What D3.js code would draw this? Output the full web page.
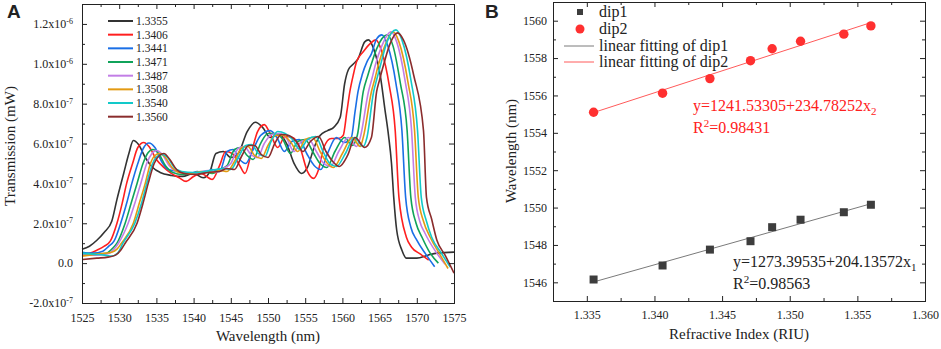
<!DOCTYPE html>
<html>
<head>
<meta charset="utf-8">
<script src="https://cdn.jsdelivr.net/npm/d3@7"></script>
<style>
  body { margin: 0; background: #fff; }
  svg { display: block; }
  text { font-family: "Liberation Serif", "Times New Roman", serif; fill: #222; }
</style>
</head>
<body>
<svg id="chart" width="941" height="349"></svg>
<script>
// ---- panel A data: transmission spectra, [wavelength nm, transmission x1e-7 mW] ----
const ri13355 = [[1525,0.7],[1526,0.85],[1527,1.15],[1528,1.55],[1529,2.1],[1529.7,3.2],[1530.6,4.5],[1531.3,5.5],[1531.9,6.15],[1532.6,5.95],[1533.5,5.3],[1534.5,4.8],[1535.5,4.55],[1537,4.4],[1538.5,4.35],[1540,4.5],[1541.3,4.28],[1542.2,4.6],[1543,5.5],[1544,5.6],[1545,5.3],[1546,5.5],[1547.2,6.6],[1548.3,7.07],[1549.3,6.8],[1550.3,6.3],[1551.5,6.45],[1552.5,6.0],[1553.5,5.0],[1554.5,4.5],[1555.3,4.8],[1556.2,5.8],[1557,6.4],[1558,6.65],[1558.8,6.8],[1559.7,7.3],[1560.3,9.0],[1560.8,9.7],[1561.5,10.0],[1562.1,10.25],[1563,11.1],[1563.5,11.2],[1564.2,10.75],[1565.1,9.4],[1565.7,7.75],[1566.2,6.4],[1566.6,5.0],[1566.9,3.3],[1567.3,1.65],[1568,0.65],[1568.6,0.25],[1570,0.25],[1571.5,0.4],[1572.7,0.5],[1575,0.55]];
const ri13406 = [[1525,0.45],[1526,0.5],[1527,0.65],[1528,0.85],[1528.8,1.1],[1529.7,2.0],[1530.4,3.0],[1531,4.0],[1531.8,5.0],[1532.5,5.8],[1533.3,6.05],[1534,5.85],[1535,5.2],[1536,4.8],[1537,4.5],[1538,4.3],[1539,4.1],[1540,4.35],[1541,4.5],[1542.5,4.2],[1543.5,4.9],[1544.3,5.6],[1545.2,5.5],[1546.2,4.9],[1546.9,4.5],[1547.8,5.6],[1548.6,6.6],[1549.5,6.95],[1550.3,6.5],[1551.3,5.8],[1552.3,6.35],[1553.3,6.3],[1554.3,5.8],[1555.3,4.6],[1556.1,4.25],[1556.8,4.7],[1557.5,5.8],[1558.5,6.25],[1559.5,6.25],[1560.1,6.4],[1560.6,7.6],[1561,8.6],[1561.5,9.5],[1561.9,10.1],[1562.8,10.6],[1563.7,11.0],[1564.5,11.2],[1565.3,10.6],[1566.3,8.9],[1567.1,6.65],[1567.6,3.3],[1568.6,1.3],[1569.3,0.8],[1570.5,0.45],[1571.6,0.15]];
const ri13441 = [[1525,0.55],[1526.5,0.5],[1527.8,0.6],[1528.6,0.85],[1529.3,1.1],[1530.2,2.0],[1531,3.0],[1531.7,4.0],[1532.5,5.0],[1533.3,5.8],[1534,6.03],[1534.8,5.8],[1535.7,5.1],[1536.6,4.7],[1538,4.6],[1539.5,4.5],[1540.5,4.6],[1541.5,4.55],[1542.5,4.7],[1543.5,4.6],[1544.5,5.6],[1545.3,5.7],[1546.2,5.2],[1547,5.0],[1548,5.7],[1549,6.4],[1550.3,6.65],[1551.2,6.3],[1552.2,5.6],[1553.2,6.1],[1554.2,6.2],[1555.2,5.5],[1556.2,4.9],[1557.1,4.7],[1558,5.5],[1559.2,6.3],[1560.3,6.05],[1561.2,6.3],[1561.7,7.6],[1562.1,8.6],[1562.7,9.5],[1563.3,10.1],[1563.9,10.5],[1564.6,11.25],[1565.3,11.45],[1566.1,10.9],[1567.2,9.0],[1568.0,6.65],[1568.5,3.3],[1569.2,1.8],[1570,1.15],[1571.2,0.45],[1572.4,-0.18]];
const ri13471 = [[1525,0.45],[1526.5,0.45],[1528.3,0.5],[1529,0.7],[1529.7,1.0],[1530.8,2.0],[1531.6,3.0],[1532.4,4.0],[1533.2,5.0],[1533.9,5.55],[1534.5,5.7],[1535.3,5.5],[1536.2,4.9],[1537.2,4.55],[1538.5,4.45],[1540,4.5],[1541.5,4.6],[1542.5,4.5],[1543.5,4.7],[1544.5,4.9],[1545.5,5.7],[1546.3,5.8],[1547.2,5.4],[1548,5.2],[1549,6.0],[1550,6.5],[1551,6.5],[1552,6.2],[1553,5.5],[1554,6.1],[1555,6.2],[1556,5.6],[1557,5.0],[1557.9,4.8],[1559,5.6],[1560.3,6.3],[1561.3,5.9],[1562,6.4],[1562.8,8.6],[1563.4,9.4],[1563.9,10.0],[1564.6,10.75],[1566,11.45],[1566.8,10.9],[1567.8,9.0],[1568.7,6.65],[1569.2,3.3],[1569.9,2.0],[1570.7,1.3],[1571.8,0.5],[1572.9,0]];
const ri13487 = [[1525,0.4],[1527,0.4],[1528.7,0.5],[1529.3,0.7],[1529.9,1.0],[1531.2,2.0],[1532.1,3.0],[1532.9,4.0],[1533.7,5.0],[1534.4,5.5],[1535,5.65],[1535.8,5.45],[1536.7,4.9],[1537.7,4.6],[1539,4.5],[1540.5,4.55],[1542,4.65],[1543,4.55],[1544,4.75],[1545,5.0],[1546,5.75],[1546.8,5.85],[1547.7,5.45],[1548.6,5.3],[1549.5,6.0],[1550.5,6.45],[1551.5,6.5],[1552.5,6.25],[1553.5,5.6],[1554.5,6.1],[1555.5,6.2],[1556.5,5.6],[1557.5,5.0],[1558.4,4.85],[1559.5,5.6],[1560.8,6.3],[1561.9,5.85],[1562.4,6.3],[1563.5,8.6],[1564,9.3],[1564.4,9.9],[1565.3,10.9],[1566.5,11.6],[1567.3,11.1],[1568.4,9.2],[1569.3,6.65],[1569.8,3.3],[1570.4,2.1],[1571.1,1.5],[1572.5,0.6],[1573.8,-0.05]];
const ri13508 = [[1525,0.35],[1527,0.45],[1529,0.55],[1529.7,0.7],[1530.3,1.0],[1531.9,2.0],[1532.7,3.0],[1533.5,4.0],[1534.2,5.0],[1534.8,5.4],[1535.4,5.5],[1536.2,5.3],[1537.1,4.8],[1538.1,4.55],[1539.5,4.5],[1541,4.6],[1542.5,4.55],[1543.5,4.65],[1544.5,4.6],[1545.5,5.1],[1546.5,5.8],[1547.3,5.85],[1548.2,5.4],[1549.1,5.25],[1550,5.9],[1551,6.4],[1552,6.4],[1553,6.1],[1554,5.6],[1555,6.2],[1556,6.3],[1557,5.6],[1558,5.0],[1558.8,4.8],[1560,5.5],[1561.3,6.3],[1562.4,5.85],[1562.8,6.3],[1563.9,8.6],[1564.4,9.3],[1564.8,9.9],[1565.7,10.9],[1566.8,11.6],[1567.6,11.1],[1568.8,9.1],[1569.7,6.65],[1570.2,3.3],[1570.9,2.1],[1571.8,1.3],[1573,0.5],[1574.2,-0.27]];
const ri13540 = [[1525,0.5],[1526.5,0.45],[1528,0.4],[1529,0.35],[1529.8,0.5],[1530.5,1.0],[1532.1,2.0],[1533,3.0],[1533.7,4.0],[1534.5,5.0],[1535.1,5.35],[1535.75,5.45],[1536.5,5.3],[1537.4,4.8],[1538.4,4.6],[1540,4.55],[1541.5,4.6],[1543,4.7],[1544,4.75],[1545,4.7],[1546,5.3],[1547,5.9],[1547.8,5.95],[1548.7,5.5],[1549.6,5.35],[1550.4,6.1],[1551.3,6.6],[1552.3,6.5],[1553.3,6.2],[1554.3,5.7],[1555.3,6.2],[1556.4,6.35],[1557.4,5.6],[1558.3,5.0],[1559.2,4.85],[1560.4,5.5],[1561.6,6.3],[1562.8,5.85],[1563.3,6.3],[1564.2,8.6],[1564.6,9.2],[1565.1,9.9],[1566,11.1],[1567.2,11.7],[1568,11.2],[1569.2,9.2],[1570.1,6.65],[1570.6,3.3],[1571.3,2.1],[1572,1.3],[1573.3,0.5],[1574.5,-0.2]];
const ri13560 = [[1525,0.18],[1527,0.25],[1528.5,0.3],[1529.5,0.4],[1530.2,0.65],[1530.8,1.0],[1532.4,2.0],[1533.2,3.0],[1533.9,4.0],[1534.7,5.0],[1535.4,5.4],[1536,5.5],[1536.8,5.2],[1537.7,4.7],[1538.7,4.5],[1540.3,4.45],[1542,4.55],[1543.5,4.6],[1544.5,4.75],[1545.5,4.7],[1546.5,5.4],[1547.4,5.9],[1548.2,5.9],[1549.1,5.45],[1550,5.3],[1550.9,6.0],[1551.8,6.45],[1552.8,6.4],[1553.8,6.1],[1554.7,5.6],[1555.7,6.1],[1556.8,6.35],[1557.8,5.6],[1558.7,5.1],[1559.6,4.85],[1560.7,5.4],[1561.7,6.3],[1563,5.8],[1563.9,6.3],[1564.6,8.6],[1565,9.2],[1565.5,9.9],[1566.4,11.0],[1567.4,11.55],[1568.2,11.2],[1569.6,9.4],[1570.9,6.65],[1571.3,3.3],[1572,2.2],[1572.7,1.15],[1573.8,0.4],[1575,-0.5]];

const spectra = [ri13355, ri13406, ri13441, ri13471, ri13487, ri13508, ri13540, ri13560];
const spectraLabels = ["1.3355","1.3406","1.3441","1.3471","1.3487","1.3508","1.3540","1.3560"];
const spectraColors = ["#333333","#ff1f1f","#1a6fe6","#10a35a","#c27ee6","#e39a12","#12c9c9","#8a2c2c"];

const wavelengthTicks = [1525,1530,1535,1540,1545,1550,1555,1560,1565,1570,1575];
const transTicks = [-2,0,2,4,6,8,10,12];
const transTickLabels = [["-2.0x10","-7"],["0.0",""],["2.0x10","-7"],["4.0x10","-7"],["6.0x10","-7"],["8.0x10","-7"],["1.0x10","-6"],["1.2x10","-6"]];

// ---- panel B data: dip wavelength vs refractive index ----
const riValues = [1.3355,1.3406,1.3441,1.3471,1.3487,1.3508,1.3540,1.3560];
const dip1 = [1546.15,1546.9,1547.75,1548.2,1548.95,1549.35,1549.75,1550.15];
const dip2 = [1555.1,1556.12,1556.9,1557.86,1558.5,1558.9,1559.28,1559.72];
const fit1Coef = [1273.39535, 204.13572];
const fit2Coef = [1241.53305, 234.78252];
const riTicks = [1.335,1.340,1.345,1.350,1.355,1.360];
const dipTicks = [1546,1548,1550,1552,1554,1556,1558,1560];

const svg = d3.select("#chart");

function frameAxes(g, x, y, xMajor, xMinor, yMajor, yMinor, opts) {
  const [x0, x1] = x.range();
  const [y0, y1] = y.range();
  // bottom
  g.append("g").attr("transform", `translate(0,${y0})`)
    .call(d3.axisBottom(x).tickValues(xMinor).tickSize(-3).tickFormat(""));
  g.append("g").attr("transform", `translate(0,${y0})`)
    .call(d3.axisBottom(x).tickValues(xMajor).tickSize(-5).tickPadding(opts.xPad).tickFormat(opts.xFmt))
    .call(a => a.selectAll("text").attr("font-size", 12).attr("fill", "#222"));
  // top
  g.append("g").attr("transform", `translate(0,${y1})`)
    .call(d3.axisTop(x).tickValues(xMinor).tickSize(-3).tickFormat(""));
  g.append("g").attr("transform", `translate(0,${y1})`)
    .call(d3.axisTop(x).tickValues(xMajor).tickSize(-5).tickFormat(""));
  // left
  g.append("g").attr("transform", `translate(${x0},0)`)
    .call(d3.axisLeft(y).tickValues(yMinor).tickSize(-3).tickFormat(""));
  const left = g.append("g").attr("transform", `translate(${x0},0)`)
    .call(d3.axisLeft(y).tickValues(yMajor).tickSize(-5).tickPadding(opts.yPad).tickFormat(""));
  left.selectAll(".tick text").attr("font-size", 12).attr("fill", "#222")
    .each(function(d, i) { opts.yLabel(d3.select(this), d, i); });
  // right
  g.append("g").attr("transform", `translate(${x1},0)`)
    .call(d3.axisRight(y).tickValues(yMinor).tickSize(-3).tickFormat(""));
  g.append("g").attr("transform", `translate(${x1},0)`)
    .call(d3.axisRight(y).tickValues(yMajor).tickSize(-5).tickFormat(""));
  g.selectAll(".domain").attr("stroke", "#222");
  g.selectAll(".tick line").attr("stroke", "#222");
  g.selectAll(".tick text").style("font-family", "'Liberation Serif', serif");
}

// ================= Panel A =================
const xA = d3.scaleLinear().domain([1525, 1575]).range([82, 454]);
const yA = d3.scaleLinear().domain([-2, 13]).range([303, 4]);
const gA = svg.append("g");

const line = d3.line().x(d => xA(d[0])).y(d => yA(d[1])).curve(d3.curveMonotoneX);
gA.selectAll("path.spec").data(spectra).join("path")
  .attr("class", "spec")
  .attr("d", line)
  .attr("fill", "none")
  .attr("stroke", (d, i) => spectraColors[i])
  .attr("stroke-width", 1.6);

frameAxes(gA, xA, yA, wavelengthTicks, d3.range(1527.5, 1575, 5), transTicks, d3.range(-1, 13, 2), {
  xPad: 10, yPad: 9, xFmt: d => d,
  yLabel: (t, d, i) => {
    const lab = transTickLabels[i];
    t.text(null);
    t.append("tspan").text(lab[0]);
    if (lab[1]) t.append("tspan").attr("font-size", 8).attr("dy", "-0.55em").text(lab[1]);
  }
});

// legend A
const legA = gA.append("g");
spectraLabels.forEach((lab, i) => {
  const yy = 21 + i * 13.67;
  legA.append("line").attr("x1", 108).attr("x2", 133).attr("y1", yy).attr("y2", yy)
    .attr("stroke", spectraColors[i]).attr("stroke-width", 2);
  legA.append("text").attr("x", 136).attr("y", yy + 4).attr("font-size", 11.5).text(lab);
});

gA.append("text").attr("x", 268).attr("y", 341).attr("text-anchor", "middle")
  .attr("font-size", 15).text("Wavelength (nm)");
gA.append("text").attr("transform", "translate(15,146) rotate(-90)").attr("text-anchor", "middle")
  .attr("font-size", 15).text("Transmission (mW)");
svg.append("text").attr("x", 7).attr("y", 18).attr("font-size", 19).attr("font-weight", "bold")
  .style("font-family", "'Liberation Sans', Arial, sans-serif").text("A");

// ================= Panel B =================
const xB = d3.scaleLinear().domain([1.3325, 1.360]).range([553, 925]);
const yB = d3.scaleLinear().domain([1545, 1561]).range([301, 2]);
const gB = svg.append("g");

frameAxes(gB, xB, yB, riTicks, d3.range(1.3375, 1.360, 0.005), dipTicks, d3.range(1545, 1561.5, 2), {
  xPad: 9.5, yPad: 6, xFmt: d3.format(".3f"),
  yLabel: (t, d) => t.text(d)
});

// fit lines
const fitLine = d3.line().x(d => xB(d[0])).y(d => yB(d[1]));
const riEnds = [riValues[0], riValues[riValues.length - 1]];
gB.append("path").attr("d", fitLine(riEnds.map(r => [r, fit1Coef[0] + fit1Coef[1] * r])))
  .attr("fill", "none").attr("stroke", "#7a7a7a").attr("stroke-width", 1);
gB.append("path").attr("d", fitLine(riEnds.map(r => [r, fit2Coef[0] + fit2Coef[1] * r])))
  .attr("fill", "none").attr("stroke", "#ff5a5a").attr("stroke-width", 1);

// markers
gB.selectAll("rect.dip1").data(dip1).join("rect").attr("class", "dip1")
  .attr("x", (d, i) => xB(riValues[i]) - 4).attr("y", d => yB(d) - 4)
  .attr("width", 8).attr("height", 8).attr("fill", "#3d3d3d");
gB.selectAll("circle.dip2").data(dip2).join("circle").attr("class", "dip2")
  .attr("cx", (d, i) => xB(riValues[i])).attr("cy", d => yB(d))
  .attr("r", 4.7).attr("fill", "#ff3030");

// legend B
const legB = gB.append("g");
legB.append("rect").attr("x", 577).attr("y", 9).attr("width", 6).attr("height", 6).attr("fill", "#3d3d3d");
legB.append("circle").attr("cx", 580).attr("cy", 29).attr("r", 4.5).attr("fill", "#ff3030");
legB.append("line").attr("x1", 564).attr("x2", 594).attr("y1", 46).attr("y2", 46).attr("stroke", "#7a7a7a");
legB.append("line").attr("x1", 564).attr("x2", 594).attr("y1", 62).attr("y2", 62).attr("stroke", "#ff5a5a");
[["dip1", 17], ["dip2", 34], ["linear fitting of dip1", 51], ["linear fitting of dip2", 67]].forEach(([t, yy]) => {
  legB.append("text").attr("x", 599).attr("y", yy).attr("font-size", 16).text(t);
});

// equations
function equation(x, y, color, main, sub, r2) {
  const t1 = gB.append("text").attr("x", x).attr("y", y).attr("font-size", 16).style("fill", color);
  t1.append("tspan").text(main);
  t1.append("tspan").attr("font-size", 11).attr("dy", 4).text(sub);
  const t2 = gB.append("text").attr("x", x).attr("y", y + 22).attr("font-size", 16).style("fill", color);
  t2.append("tspan").text("R");
  t2.append("tspan").attr("font-size", 11).attr("dy", -6).text("2");
  t2.append("tspan").attr("dy", 6).text("=" + r2);
}
equation(693, 111, "#ff2020", "y=1241.53305+234.78252x", "2", "0.98431");
equation(733, 267, "#222", "y=1273.39535+204.13572x", "1", "0.98563");

gB.append("text").attr("x", 739).attr("y", 339).attr("text-anchor", "middle")
  .attr("font-size", 15).text("Refractive Index (RIU)");
gB.append("text").attr("transform", "translate(516,151) rotate(-90)").attr("text-anchor", "middle")
  .attr("font-size", 15).text("Wavelength (nm)");
svg.append("text").attr("x", 485).attr("y", 18).attr("font-size", 19).attr("font-weight", "bold")
  .style("font-family", "'Liberation Sans', Arial, sans-serif").text("B");
</script>
</body>
</html>
